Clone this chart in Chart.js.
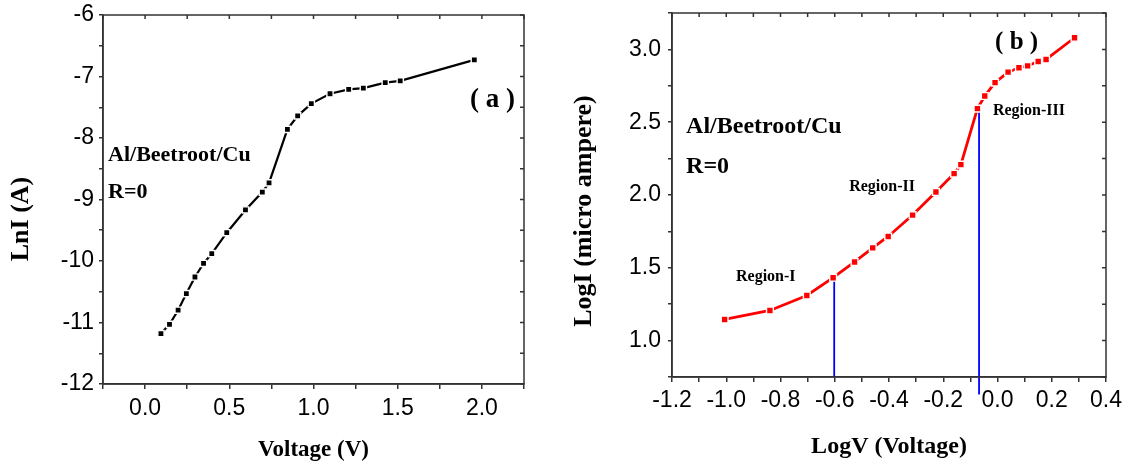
<!DOCTYPE html>
<html>
<head>
<meta charset="utf-8">
<script src="https://cdn.jsdelivr.net/npm/chart.js@4.4.1/dist/chart.umd.min.js"></script>
<style>
  html, body { margin: 0; background: #fff; }
  #wrap { position: relative; width: 1127px; height: 468px; }
  .box { position: absolute; top: 0; height: 468px; }
  #boxA { left: 0; width: 560px; }
  #boxB { left: 560px; width: 567px; }
</style>
</head>
<body>
<div id="wrap">
  <div class="box" id="boxA"><canvas id="chartA"></canvas></div>
  <div class="box" id="boxB"><canvas id="chartB"></canvas></div>
</div>
<script>
// (a) LnI vs Voltage
const voltage = [0.094, 0.145, 0.196, 0.245, 0.296, 0.347, 0.396, 0.485, 0.596, 0.696, 0.736,
  0.845, 0.906, 0.987, 1.098, 1.209, 1.296, 1.426, 1.515, 1.955];
const lnI = [-11.18, -11.03, -10.80, -10.53, -10.26, -10.04, -9.88, -9.54, -9.17, -8.88, -8.73,
  -7.86, -7.64, -7.44, -7.28, -7.21, -7.19, -7.10, -7.07, -6.73];

// (b) LogI vs LogV
const logV = [-1.006, -0.839, -0.703, -0.606, -0.527, -0.460, -0.403, -0.313, -0.227, -0.160,
  -0.135, -0.074, -0.047, -0.009, 0.039, 0.079, 0.111, 0.150, 0.179, 0.284];
const logI = [1.145, 1.207, 1.310, 1.432, 1.540, 1.637, 1.715, 1.862, 2.021, 2.147,
  2.209, 2.593, 2.680, 2.772, 2.844, 2.874, 2.887, 2.917, 2.931, 3.080];

// region boundaries (blue verticals)
const boundaryV = [-0.602, -0.068];
const boundaryTop = [1.43, 2.58];
const boundaryBottom = [0.75, 0.63];

const TICK_FONT = { family: "Liberation Sans", size: 23 };
const AXIS = "#333";

// frame, mirrored inner ticks, y title and text notes
const framePlugin = {
  id: "frame",
  afterDatasetsDraw(chart, args, opts) {
    const { ctx, chartArea: a, scales: { x, y } } = chart;
    ctx.save();
    ctx.strokeStyle = AXIS;
    ctx.lineWidth = 1.5;
    ctx.strokeRect(a.left, a.top, a.right - a.left, a.bottom - a.top);
    ctx.beginPath();
    x.ticks.forEach((t) => { const px = x.getPixelForValue(t.value); ctx.moveTo(px, a.top); ctx.lineTo(px, a.top + 4); });
    y.ticks.forEach((t) => { const py = y.getPixelForValue(t.value); ctx.moveTo(a.right, py); ctx.lineTo(a.right - 4, py); });
    ctx.stroke();

    ctx.fillStyle = "#000";
    ctx.textBaseline = "middle";
    const t = opts.yTitle;
    ctx.save();
    ctx.translate(t.x, t.y);
    ctx.rotate(-Math.PI / 2);
    ctx.textAlign = "center";
    ctx.font = `bold ${t.size}px "Liberation Serif"`;
    ctx.fillText(t.text, 0, 0);
    ctx.restore();

    ctx.textAlign = "left";
    opts.notes.forEach((n) => {
      ctx.font = `bold ${n.size}px "Liberation Serif"`;
      ctx.fillText(n.text, x.getPixelForValue(n.x), y.getPixelForValue(n.y));
    });
    ctx.restore();
  },
};

function xAxis(min, max, step, every, height, title, titleSize, titlePad, tickPad) {
  return {
    type: "linear", min, max,
    afterFit(s) { s.height = height; s.paddingLeft = 0; s.paddingRight = 0; },
    ticks: {
      stepSize: step, autoSkip: false, maxRotation: 0, padding: tickPad, color: "#000", font: TICK_FONT,
      callback: (v) => Math.abs(Math.round(v / step)) % every === 0 ? (Math.round(v * 10) / 10).toFixed(1) : "",
    },
    grid: { drawOnChartArea: false, tickLength: 5, color: AXIS, lineWidth: 1.5 },
    border: { color: AXIS, width: 1.5 },
    title: { display: true, text: title, color: "#000", font: { family: "Liberation Serif", size: titleSize, weight: "bold" }, padding: { top: 0, bottom: titlePad } },
  };
}

function yAxis(min, max, step, every, width, tickPad, fmt) {
  return {
    type: "linear", min, max,
    afterFit(s) { s.width = width; s.paddingTop = 0; s.paddingBottom = 0; },
    ticks: {
      stepSize: step, autoSkip: false, padding: tickPad, color: "#000", font: TICK_FONT,
      callback: (v) => Math.abs(Math.round(v / step)) % every === 0 ? fmt(v) : "",
    },
    grid: { drawOnChartArea: false, tickLength: 4, color: AXIS, lineWidth: 1.5 },
    border: { color: AXIS, width: 1.5 },
  };
}

new Chart(document.getElementById("chartA"), {
  type: "line",
  data: {
    datasets: [{
      data: voltage.map((v, i) => ({ x: v, y: lnI[i] })),
      borderColor: "#000", borderWidth: 2.2, tension: 0,
      pointStyle: "rect", pointRadius: 4.4, pointBackgroundColor: "#000",
      pointBorderColor: "#fff", pointBorderWidth: 1.4,
    }],
  },
  options: {
    responsive: true, maintainAspectRatio: false, animation: false,
    layout: { padding: { top: 15, right: 36, bottom: 0, left: 0 } },
    plugins: {
      legend: { display: false }, tooltip: { enabled: false },
      frame: {
        yTitle: { text: "LnI (A)", x: 21, y: 219, size: 26 },
        notes: [
          { text: "Al/Beetroot/Cu", x: -0.22, y: -8.28, size: 22 },
          { text: "R=0", x: -0.22, y: -8.89, size: 22 },
          { text: "( a )", x: 1.93, y: -7.38, size: 27 },
        ],
      },
    },
    scales: {
      x: xAxis(-0.25, 2.25, 0.25, 2, 84, "Voltage (V)", 23, 4, 6),
      y: yAxis(-12, -6, 0.5, 2, 103, 5, (v) => String(Math.round(v))),
    },
  },
  plugins: [framePlugin],
});

new Chart(document.getElementById("chartB"), {
  type: "line",
  data: {
    datasets: [
      {
        data: logV.map((v, i) => ({ x: v, y: logI[i] })),
        borderColor: "#ff0000", borderWidth: 2.8, tension: 0, order: 0,
        pointStyle: "rect", pointRadius: 4.8, pointBackgroundColor: "#ff0000",
        pointBorderColor: "#fff", pointBorderWidth: 1.4,
      },
      ...boundaryV.map((v, i) => ({
        data: [{ x: v, y: boundaryBottom[i] }, { x: v, y: boundaryTop[i] }],
        borderColor: "#0000ff", borderWidth: 1.8, pointRadius: 0, order: 1, clip: false,
      })),
    ],
  },
  options: {
    responsive: true, maintainAspectRatio: false, animation: false,
    layout: { padding: { top: 13, right: 21, bottom: 0, left: 0 } },
    plugins: {
      legend: { display: false }, tooltip: { enabled: false },
      frame: {
        yTitle: { text: "LogI (micro ampere)", x: 24, y: 211, size: 26 },
        notes: [
          { text: "Al/Beetroot/Cu", x: -1.148, y: 2.467, size: 24 },
          { text: "R=0", x: -1.148, y: 2.192, size: 24 },
          { text: "Region-I", x: -0.964, y: 1.437, size: 16 },
          { text: "Region-II", x: -0.547, y: 2.055, size: 16 },
          { text: "Region-III", x: -0.017, y: 2.577, size: 16 },
          { text: "( b )", x: -0.009, y: 3.05, size: 25 },
        ],
      },
    },
    scales: {
      x: xAxis(-1.2, 0.4, 0.1, 2, 91, "LogV (Voltage)", 24, 7, 5),
      y: yAxis(0.75, 3.25, 0.25, 2, 112, 7, (v) => (Math.round(v * 10) / 10).toFixed(1)),
    },
  },
  plugins: [framePlugin],
});
</script>
</body>
</html>
